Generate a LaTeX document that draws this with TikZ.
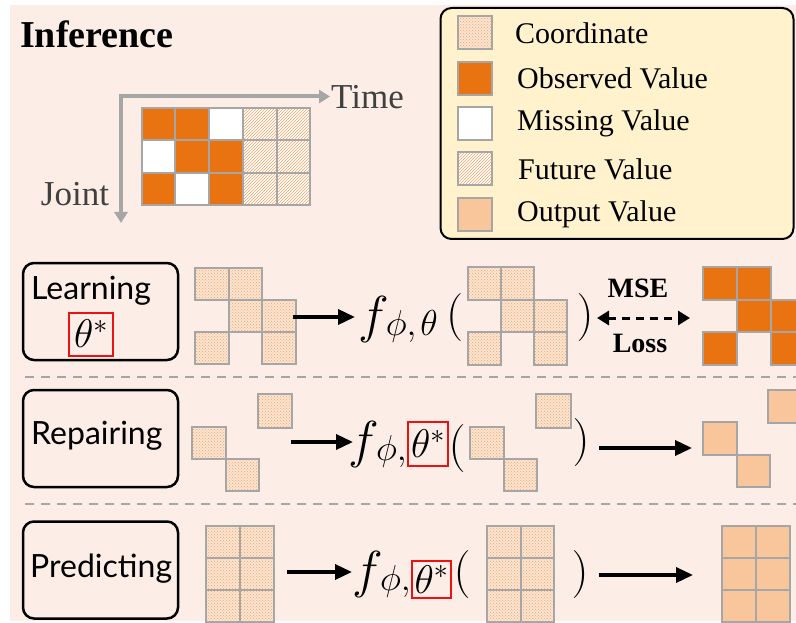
\RequirePackage{fix-cm}
\documentclass[tikz,border=0pt]{standalone}
\usepackage{fontspec}
\setmainfont{Liberation Serif}
\newfontfamily\stagefont{Lato}
\usetikzlibrary{arrows.meta,patterns}

\definecolor{bgpeach}{HTML}{FCEEE6}
\definecolor{obsorange}{HTML}{E97311}
\definecolor{outpeach}{HTML}{F9C59B}
\definecolor{coordfill}{HTML}{FBE4D0}
\definecolor{coorddot}{HTML}{EFA56A}
\definecolor{hatchorange}{HTML}{F4A56A}
\definecolor{cellgray}{HTML}{A6A6A6}
\definecolor{legendfill}{HTML}{FFF2CC}
\definecolor{axisgray}{HTML}{A6A6A6}
\definecolor{labelgray}{HTML}{404040}
\definecolor{boxred}{HTML}{EE1111}

\tikzset{
  cellbase/.style={draw=cellgray, line width=2pt},
  obs/.style={cellbase, fill=obsorange},
  miss/.style={cellbase, fill=white},
  fut/.style={cellbase, preaction={fill=white}, pattern=north east lines, pattern color=hatchorange},
  crd/.style={cellbase, preaction={fill=coordfill}, pattern=crosshatch dots, pattern color=coorddot},
  outv/.style={cellbase, fill=outpeach},
  axisline/.style={draw=axisgray, line width=4pt, line join=miter,
    {Triangle[length=11pt,width=13pt]}-{Triangle[length=11pt,width=13pt]}},
  legendbox/.style={draw=black, fill=legendfill, line width=2pt, rounded corners=11pt, inner sep=0pt},
  legendtext/.style={anchor=west, inner sep=0pt, font=\fontsize{30}{34}\selectfont},
  stagebox/.style={draw=black, line width=2.5pt, rounded corners=11pt, minimum width=155pt, minimum height=97pt, inner sep=0pt},
  stagelabel/.style={anchor=west, inner sep=0pt, font=\stagefont\fontsize{32}{36}\selectfont},
  redbox/.style={draw=boxred, line width=2pt, inner sep=0pt, font=\fontsize{40}{44}\selectfont},
  fexpr/.style={inner sep=0pt, anchor=base west},
  paren/.style={inner sep=0pt, font=\fontsize{48}{50}\selectfont},
  flow/.style={draw=black, line width=3.5pt, -{Triangle[length=17pt,width=15pt]}},
  lossarrow/.style={draw=black, line width=3pt, dash pattern=on 8pt off 6pt,
    {Triangle[length=12pt,width=14pt]}-{Triangle[length=12pt,width=14pt]}},
  sepline/.style={draw=axisgray, line width=2pt, dash pattern=on 9pt off 7pt},
  bold28/.style={inner sep=0pt, font=\fontsize{28}{30}\selectfont\bfseries}
}

% one square of a data grid: style, left, top, width, height
\newcommand\gridcell[5]{\path[#1] ({#2},{#3}) rectangle ++({#4},{#5});}
% large f with a slightly lowered subscript
\newcommand\fsub[1]{{\fontsize{52}{56}\selectfont$f$}\kern-3pt{\fontsize{36}{40}\selectfont\raisebox{-3pt}{$#1$}}}

\begin{document}
\begin{tikzpicture}[x=1pt,y=-1pt]
\useasboundingbox (0,0) rectangle (796,623);
\clip (0,0) rectangle (796,623);
\fill[white] (0,0) rectangle (796,623);
\fill[bgpeach] (10,5) rectangle (800,621);

% ---- title and data layout ----
\node[anchor=base west, inner sep=0pt, font=\fontsize{38}{42}\selectfont\bfseries] (title) at (20,48) {Inference};

\coordinate (jointtip) at (121,223);
\coordinate (axcorner) at (121,96.5);
\coordinate (timetip) at (330,96.5);
\draw[axisline] (jointtip) -- (axcorner) -- (timetip);
\node[anchor=west, inner sep=0pt, text=labelgray, font=\fontsize{35}{38}\selectfont] (timelbl) at (331,97) {Time};
\node[inner sep=0pt, text=labelgray, font=\fontsize{35}{38}\selectfont] (jointlbl) at (75,194) {Joint};

\foreach \s [count=\i from 0] in {obs,obs,miss,fut,fut}
  {\gridcell{\s}{141.7+\i*33.7}{108}{33.7}{32.3}}
\foreach \s [count=\i from 0] in {miss,obs,obs,fut,fut}
  {\gridcell{\s}{141.7+\i*33.7}{140.3}{33.7}{32.3}}
\foreach \s [count=\i from 0] in {obs,miss,obs,fut,fut}
  {\gridcell{\s}{141.7+\i*33.7}{172.6}{33.7}{32.3}}

% ---- legend ----
\node[legendbox, minimum width=353pt, minimum height=231pt] (legend) at (617,123.5) {};
\gridcell{crd}{458}{16}{34}{33}
\gridcell{obs}{458}{62}{34}{33}
\gridcell{miss}{458}{107}{34}{33}
\gridcell{fut}{458}{152}{34}{33}
\gridcell{outv}{458}{198}{34}{33}
\node[legendtext] (lgcoord) at (515,33) {Coordinate};
\node[legendtext] (lgobs) at (517,78) {Observed Value};
\node[legendtext] (lgmiss) at (517,123) {Missing Value};
\node[legendtext] (lgfut) at (518,169) {Future Value};
\node[legendtext] (lgout) at (517,214) {Output Value};

% ---- learning ----
\node[stagebox] (learnbox) at (100.5,311.5) {};
\node[stagelabel] (learntxt) at (31,291) {Learning};
\node[redbox, minimum width=44pt, minimum height=43pt] (learntheta) at (91,334) {$\theta^{*}$};

\foreach \c/\r in {0/0,1/0,1/1,2/1,0/2,2/2}
  {\gridcell{crd}{195+\c*33.5}{268+\r*32}{33.5}{32}}
\coordinate (learnA) at (293,317);
\coordinate (learnB) at (355,317);
\draw[flow] (learnA) -- (learnB);

\node[fexpr] (learnf) at (358,332) {\fsub{\phi{,}\mkern2mu\theta}};
\node[paren] (learnlp) at (454.5,318) {$($};
\foreach \c/\r in {0/0,1/0,1/1,2/1,0/2,2/2}
  {\gridcell{crd}{468+\c*33}{267+\r*32.7}{33}{32.7}}
\node[paren] (learnrp) at (585,318) {$)$};

\coordinate (lossA) at (597,318);
\coordinate (lossB) at (690,318);
\draw[lossarrow] (lossA) -- (lossB);
\node[bold28] (mse) at (638,288) {MSE};
\node[bold28] (loss) at (640,343) {Loss};

\foreach \c/\r in {0/0,1/0,1/1,2/1,0/2,2/2}
  {\gridcell{obs}{703+\c*34}{267+\r*32.7}{34}{32.7}}

\coordinate (sepA0) at (25,377);
\coordinate (sepA1) at (796,377);
\draw[sepline] (sepA0) -- (sepA1);

% ---- repairing ----
\node[stagebox] (repairbox) at (100.5,438.5) {};
\node[stagelabel] (repairtxt) at (31,436) {Repairing};

\gridcell{crd}{192}{427}{34}{32}
\gridcell{crd}{226}{459}{33}{32}
\gridcell{crd}{258}{394}{34}{34}
\coordinate (repairA) at (291,442);
\coordinate (repairB) at (353,442);
\draw[flow] (repairA) -- (repairB);

\node[fexpr, anchor=base east] (repairf) at (407,457) {\fsub{\phi,}};
\node[redbox, minimum width=40pt, minimum height=44pt] (repairtheta) at (428,444) {$\theta^{*}$};
\node[paren] (repairlp) at (457,448) {$($};
\gridcell{crd}{470}{427}{34}{32}
\gridcell{crd}{504}{459}{33}{32}
\gridcell{crd}{536}{394}{35}{34}
\node[paren] (repairrp) at (581,443) {$)$};

\coordinate (repairC) at (599,448);
\coordinate (repairD) at (692,448);
\draw[flow] (repairC) -- (repairD);

\gridcell{outv}{703}{422}{34}{33}
\gridcell{outv}{737}{455}{33}{32}
\gridcell{outv}{768}{390}{33}{33}

\coordinate (sepB0) at (25,504);
\coordinate (sepB1) at (796,504);
\draw[sepline] (sepB0) -- (sepB1);

% ---- predicting ----
\node[stagebox] (predictbox) at (100.5,570) {};
\node[stagelabel] (predicttxt) at (30,569) {Predicting};

\foreach \c in {0,1} \foreach \r in {0,1,2}
  {\gridcell{crd}{206+\c*34}{526+\r*32}{34}{32}}
\coordinate (predictA) at (287,572);
\coordinate (predictB) at (352,572);
\draw[flow] (predictA) -- (predictB);

\node[fexpr, anchor=base east] (predictf) at (411,587) {\fsub{\phi,}};
\node[redbox, minimum width=39pt, minimum height=37pt] (predicttheta) at (431.5,579.5) {$\theta^{*}$};
\node[paren] (predictlp) at (462,574) {$($};
\foreach \c in {0,1} \foreach \r in {0,1,2}
  {\gridcell{crd}{487+\c*33.5}{526+\r*32}{33.5}{32}}
\node[paren] (predictrp) at (580,574) {$)$};

\coordinate (predictC) at (599,575);
\coordinate (predictD) at (693,575);
\draw[flow] (predictC) -- (predictD);

\foreach \c in {0,1} \foreach \r in {0,1,2}
  {\gridcell{outv}{722+\c*34}{526+\r*32}{34}{32}}
\end{tikzpicture}
\end{document}
